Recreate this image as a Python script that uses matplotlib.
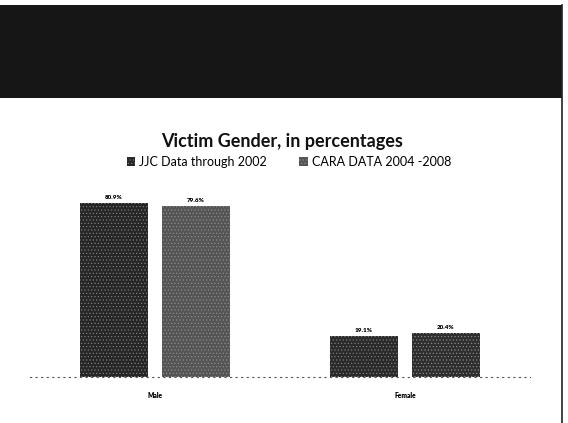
import matplotlib
matplotlib.use("Agg")
import matplotlib.pyplot as plt
from matplotlib.patches import Rectangle, Patch
import numpy as np

categories = ["Male", "Female"]
series_names = ["JJC Data through 2002", "CARA DATA 2004 -2008"]
jjc_values = [80.9, 19.1]
cara_values = [79.6, 20.4]
value_labels_jjc = ["80.9%", "19.1%"]
value_labels_cara = ["79.6%", "20.4%"]
title = "Victim Gender, in percentages"

plt.rcParams['font.family'] = ['Lato', 'DejaVu Sans']
plt.rcParams['hatch.linewidth'] = 0.5

fig = plt.figure(figsize=(5.68, 4.23), dpi=100)
fig.patch.set_facecolor('white')

# dark header band
fig.patches.append(Rectangle((0, 1 - 98/423), 562/568, 93/423, transform=fig.transFigure,
                             facecolor='#161616', edgecolor='none', zorder=0))
# right border line
fig.lines.append(plt.Line2D([562/568, 562/568], [0, 1 - 5/423], transform=fig.transFigure,
                            color='#222222', lw=1.2))

ax = fig.add_axes([30/568, (423-377)/423, 500/568, 193.5/423])
x = np.arange(len(categories))
w = 0.275
off = 0.164
jjc_colors = ['#262626', '#2a2a2a']
cara_colors = ['#555555', '#2e2e2e']
ax.bar(x - off, jjc_values, w, color=jjc_colors, hatch='.....', edgecolor='#7a7a7a', linewidth=0)
ax.bar(x + off, cara_values, w, color=cara_colors, hatch='.....', edgecolor='#8a8a8a', linewidth=0)

for xi, v, lab in zip(x - off, jjc_values, value_labels_jjc):
    ax.text(xi, v + 1.5, lab, ha='center', va='bottom', fontsize=4.5, fontweight='heavy')
for xi, v, lab in zip(x + off, cara_values, value_labels_cara):
    ax.text(xi, v + 1.5, lab, ha='center', va='bottom', fontsize=4.5, fontweight='heavy')

ax.set_xlim(-0.5, 1.5)
ax.set_ylim(0, 90)
ax.set_xticks(x)
ax.set_xticklabels(categories, fontsize=4.8, fontweight='heavy')
ax.tick_params(axis='x', length=0, pad=11)
ax.set_yticks([])
for s in ['top', 'right', 'left']:
    ax.spines[s].set_visible(False)
ax.spines['bottom'].set_linestyle((0, (1, 4)))
ax.spines['bottom'].set_color('#555555')
ax.spines['bottom'].set_linewidth(0.8)

fig.text(282/568, 1 - 141/423, title, ha='center', va='center', fontsize=13, fontweight='bold', color='#111111')

handles = [Patch(facecolor='#262626', hatch='.....', edgecolor='#7a7a7a', linewidth=0),
           Patch(facecolor='#555555', hatch='.....', edgecolor='#8a8a8a', linewidth=0)]
fig.legend(handles, series_names, loc='center', bbox_to_anchor=(289/568, 1 - 162/423), ncol=2,
           frameon=False, fontsize=9, handlelength=0.7, handleheight=0.7, handletextpad=0.3,
           columnspacing=2.6)

fig.savefig("out.png", dpi=100)
